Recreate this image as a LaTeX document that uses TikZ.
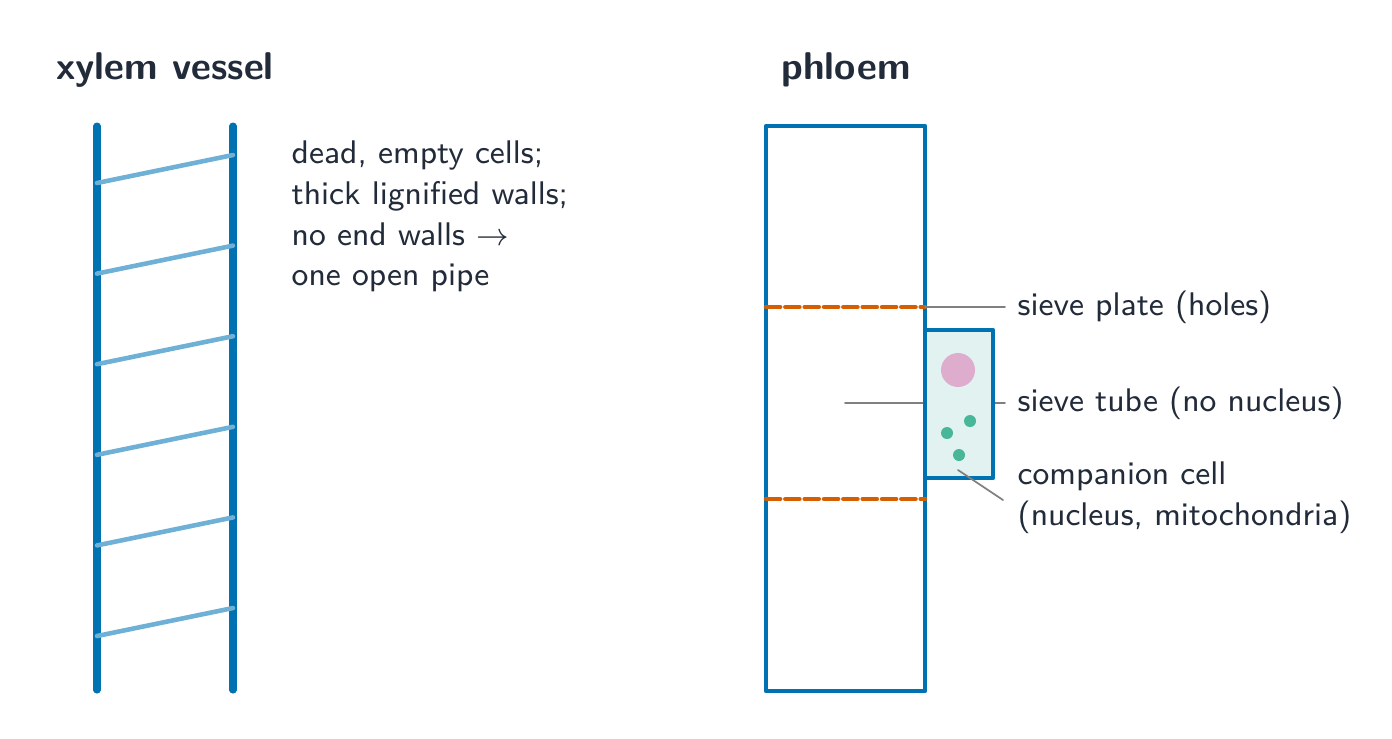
\documentclass[tikz,border=0pt]{standalone}
\usepackage{tikz}
\usetikzlibrary{calc}
\definecolor{wallblue}{RGB}{0,114,178}
\definecolor{rungblue}{RGB}{110,176,214}
\definecolor{plateorange}{RGB}{213,94,0}
\definecolor{nucpink}{RGB}{222,172,205}
\definecolor{mitogreen}{RGB}{72,182,152}
\definecolor{cellfill}{RGB}{225,242,240}
\definecolor{inkdark}{RGB}{34,43,58}
\tikzset{
  lbl/.style={font=\sffamily\fontsize{9.3}{11.6}\selectfont, text=inkdark, inner sep=0pt, anchor=west, align=left},
  ttl/.style={font=\sffamily\bfseries\fontsize{11}{13}\selectfont, text=inkdark, inner sep=0pt},
  leader/.style={line width=0.5pt, color=gray},
}
\begin{document}
\begin{tikzpicture}[line cap=round,line join=round,x=0.01cm,y=-0.01cm]
\useasboundingbox (0,0) rectangle (1392,738);
% xylem
\node[ttl] (xt) at (165,70) {xylem vessel};
\draw[line width=2pt, wallblue] (97,126) -- (97,690);
\draw[line width=2pt, wallblue] (233,126) -- (233,690);
\foreach \i in {0,...,5}
  \draw[line width=1.3pt, rungblue] (97,183+90.6*\i) -- (233,155+90.6*\i);
\node[lbl, anchor=north west] (xd) at (291,140) {dead, empty cells;\\thick lignified walls;\\no end walls $\rightarrow$\\one open pipe};
% phloem
\node[ttl] (pt) at (846,70) {phloem};
\draw[line width=1.2pt, wallblue] (766,126) rectangle (925,691);
\draw[line width=1.3pt, plateorange, dash pattern=on 4pt off 1.5pt] (766,307) -- (925,307);
\draw[line width=1.3pt, plateorange, dash pattern=on 4pt off 1.5pt] (766,499) -- (925,499);
\coordinate (sp) at (925,307);
\coordinate (st) at (845,403);
\coordinate (cc) at (958,470);
\node[lbl] (spl) at (1017,307) {sieve plate (holes)};
\node[lbl] (stl) at (1017,403) {sieve tube (no nucleus)};
\node[lbl] (ccl) at (1017,498) {companion cell\\(nucleus, mitochondria)};
\draw[leader] (sp) -- ($(spl.west)+(-12,0)$);
\draw[leader] (st) -- ($(stl.west)+(-12,0)$);
\draw[line width=1.2pt, wallblue, fill=cellfill] (925,330) rectangle (993,478);
\fill[nucpink] (958,370) circle (17);
\foreach \p in {(970,421),(947,433),(959,455)}
  \fill[mitogreen] \p circle (6);
\draw[leader] (cc) -- (1003,500);
\end{tikzpicture}
\end{document}
